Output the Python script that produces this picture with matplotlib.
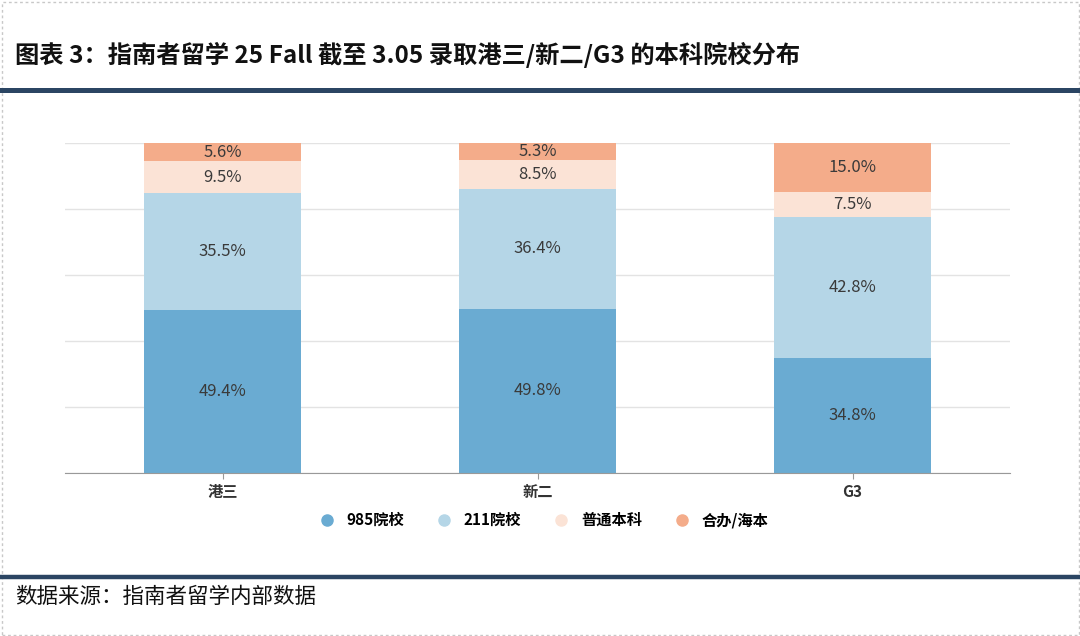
import matplotlib.pyplot as plt
from matplotlib.lines import Line2D
from matplotlib.patches import Rectangle

plt.rcParams['font.family'] = ['Noto Sans CJK SC', 'DejaVu Sans']

categories = ["港三", "新二", "G3"]
series_names = ["985院校", "211院校", "普通本科", "合办/海本"]
v985 = [49.4, 49.8, 34.8]
v211 = [35.5, 36.4, 42.8]
vnormal = [9.5, 8.5, 7.5]
vjoint = [5.6, 5.3, 15.0]
colors = ["#6aabd2", "#b5d6e7", "#fbe3d6", "#f4ac8a"]

title = "图表 3：指南者留学 25 Fall 截至 3.05 录取港三/新二/G3 的本科院校分布"
source = "数据来源：指南者留学内部数据"

W, H = 1080, 636
fig = plt.figure(figsize=(W / 100, H / 100), dpi=100)

# page decorations
fig.patches.append(Rectangle((1.5 / W, 1.5 / H), 1 - 3 / W, 1 - 3 / H, transform=fig.transFigure,
                             fill=False, edgecolor="#c8c8c8", linestyle=(0, (2, 2)), linewidth=1))
fig.add_artist(Line2D([2 / W, 1 - 2 / W], [1 - 90 / H] * 2, color="#2b4563", linewidth=3.6))
fig.add_artist(Line2D([2 / W, 1 - 2 / W], [1 - 577 / H] * 2, color="#2b4563", linewidth=3.2))
fig.text(15 / W, 1 - 55 / H, title, fontsize=17.5, fontweight="bold", va="center", ha="left", color="#111")
fig.text(15 / W, 1 - 597 / H, source, fontsize=15.5, va="center", ha="left", color="#111")

ax = fig.add_axes([65 / W, 1 - 473 / H, 945 / W, 330 / H])
x = list(range(len(categories)))
bottom = [0.0] * len(categories)
for name, vals, c in zip(series_names, [v985, v211, vnormal, vjoint], colors):
    ax.bar(x, vals, width=0.5, bottom=bottom, color=c, label=name, zorder=2)
    for xi, b, v in zip(x, bottom, vals):
        ax.text(xi, b + v / 2, f"{v:.1f}%", ha="center", va="center", fontsize=12,
                fontweight="medium", color="#3a3a3a", zorder=3)
    bottom = [b + v for b, v in zip(bottom, vals)]

ax.set_xlim(-0.5, 2.5)
ax.set_ylim(0, 100)
ax.set_yticks([0, 20, 40, 60, 80, 100])
ax.yaxis.grid(True, color="#e3e3e3", linewidth=1, zorder=0)
ax.tick_params(axis="y", length=0, labelleft=False)
ax.tick_params(axis="x", length=4, color="#999", labelsize=11, labelcolor="#333", pad=4)
ax.set_xticks(x)
ax.set_xticklabels(categories, fontweight="bold")
for s in ["top", "right", "left"]:
    ax.spines[s].set_visible(False)
ax.spines["bottom"].set_color("#999")

handles = [Line2D([], [], marker="o", linestyle="", markersize=8, markerfacecolor=c, markeredgecolor=c)
           for c in colors]
fig.legend(handles, series_names, loc="center", bbox_to_anchor=(540 / W, 1 - 520 / H), ncol=4,
           frameon=False, handletextpad=0.3, columnspacing=1.6,
           prop={"weight": "bold", "size": 11})

fig.savefig("out.png", dpi=100)
